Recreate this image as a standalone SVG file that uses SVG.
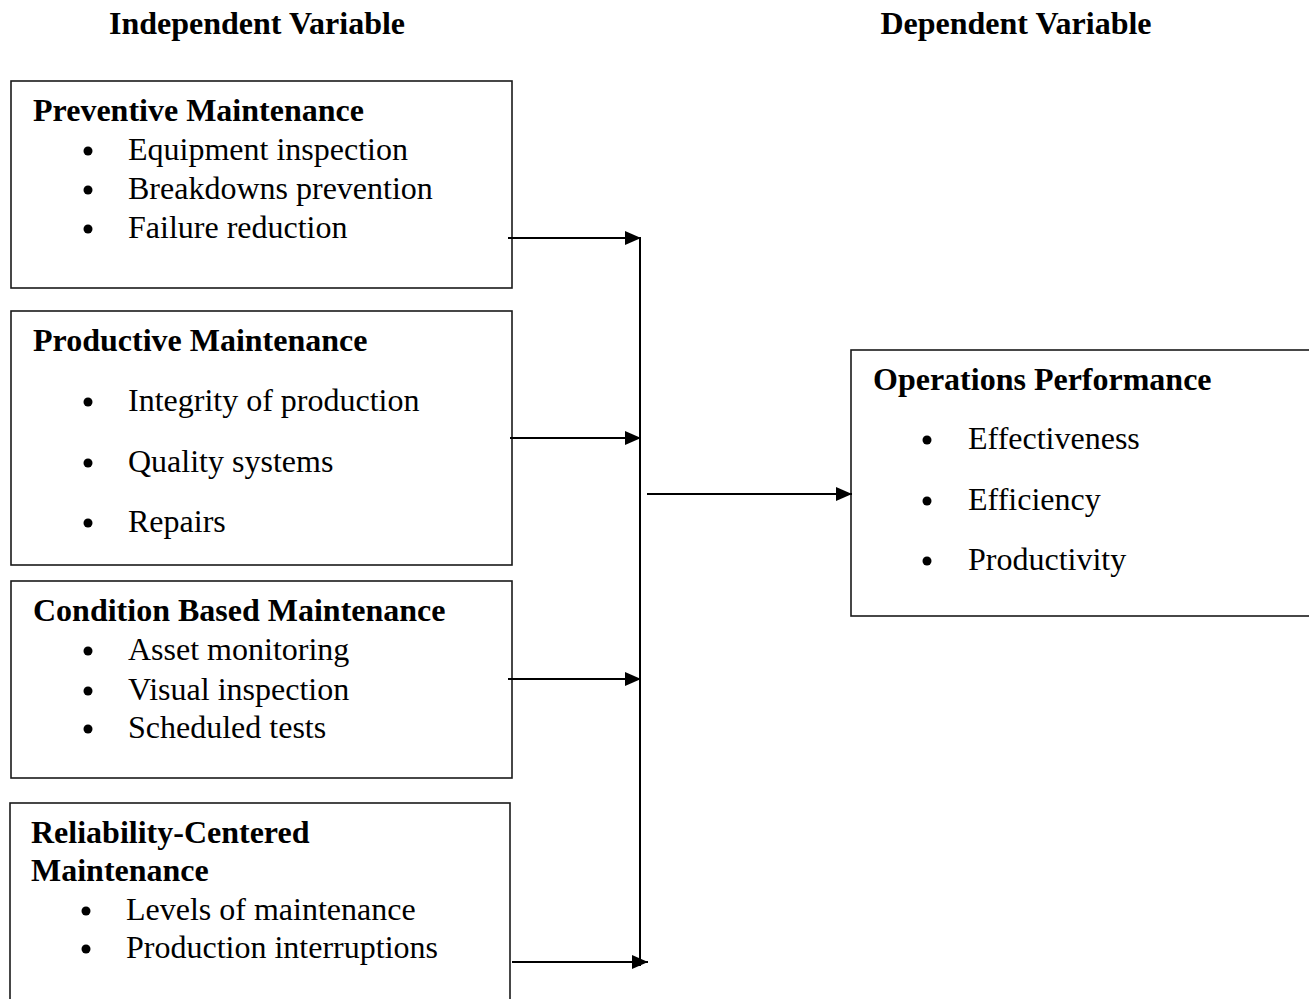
<svg xmlns="http://www.w3.org/2000/svg" width="1309" height="999" viewBox="0 0 1309 999">
<style>
text{font-family:"Liberation Serif","Times New Roman",serif;font-size:32px;fill:#000}
.b{font-weight:bold}
.box{fill:#fff;stroke:#1a1a1a;stroke-width:1.6}
.ln{stroke:#000;stroke-width:2;fill:none}
.dot{fill:#000}
</style>
<defs>
<marker id="ah" markerWidth="16" markerHeight="14" refX="16" refY="7" orient="auto" markerUnits="userSpaceOnUse">
<path d="M0,0 L16,7 L0,14 Z" fill="#000"/>
</marker>
</defs>
<rect width="1309" height="999" fill="#fff"/>
<text class="b" x="257" y="34" text-anchor="middle">Independent Variable</text>
<text class="b" x="1016" y="34" text-anchor="middle">Dependent Variable</text>

<g id="preventive">
<rect class="box" x="11" y="81" width="501" height="207"/>
<text class="b" x="33" y="121">Preventive Maintenance</text>
<circle class="dot" cx="88" cy="151" r="4.5"/><text x="128" y="160">Equipment inspection</text>
<circle class="dot" cx="88" cy="190" r="4.5"/><text x="128" y="199">Breakdowns prevention</text>
<circle class="dot" cx="88" cy="229" r="4.5"/><text x="128" y="238">Failure reduction</text>
</g>

<g id="productive">
<rect class="box" x="11" y="311" width="501" height="254"/>
<text class="b" x="33" y="351">Productive Maintenance</text>
<circle class="dot" cx="88" cy="402" r="4.5"/><text x="128" y="411">Integrity of production</text>
<circle class="dot" cx="88" cy="463" r="4.5"/><text x="128" y="472">Quality systems</text>
<circle class="dot" cx="88" cy="523" r="4.5"/><text x="128" y="532">Repairs</text>
</g>

<g id="condition">
<rect class="box" x="11" y="581" width="501" height="197"/>
<text class="b" x="33" y="621">Condition Based Maintenance</text>
<circle class="dot" cx="88" cy="651" r="4.5"/><text x="128" y="660">Asset monitoring</text>
<circle class="dot" cx="88" cy="691" r="4.5"/><text x="128" y="700">Visual inspection</text>
<circle class="dot" cx="88" cy="729" r="4.5"/><text x="128" y="738">Scheduled tests</text>
</g>

<g id="reliability">
<rect class="box" x="10" y="803" width="500" height="210"/>
<text class="b" x="31" y="843">Reliability-Centered</text>
<text class="b" x="31" y="881">Maintenance</text>
<circle class="dot" cx="86" cy="911" r="4.5"/><text x="126" y="920">Levels of maintenance</text>
<circle class="dot" cx="86" cy="949" r="4.5"/><text x="126" y="958">Production interruptions</text>
</g>

<g id="operations">
<rect class="box" x="851" y="350" width="470" height="266"/>
<text class="b" x="873" y="390">Operations Performance</text>
<circle class="dot" cx="927" cy="440" r="4.5"/><text x="968" y="449">Effectiveness</text>
<circle class="dot" cx="927" cy="501" r="4.5"/><text x="968" y="510">Efficiency</text>
<circle class="dot" cx="927" cy="561" r="4.5"/><text x="968" y="570">Productivity</text>
</g>

<g id="connectors">
<line class="ln" x1="640" y1="238" x2="640" y2="966"/>
<line class="ln" x1="508" y1="238" x2="641" y2="238" marker-end="url(#ah)"/>
<line class="ln" x1="510" y1="438" x2="641" y2="438" marker-end="url(#ah)"/>
<line class="ln" x1="508" y1="679" x2="641" y2="679" marker-end="url(#ah)"/>
<line class="ln" x1="512" y1="962" x2="648" y2="962" marker-end="url(#ah)"/>
<line class="ln" x1="647" y1="494" x2="852" y2="494" stroke-width="2.5" marker-end="url(#ah)"/>
</g>
</svg>
